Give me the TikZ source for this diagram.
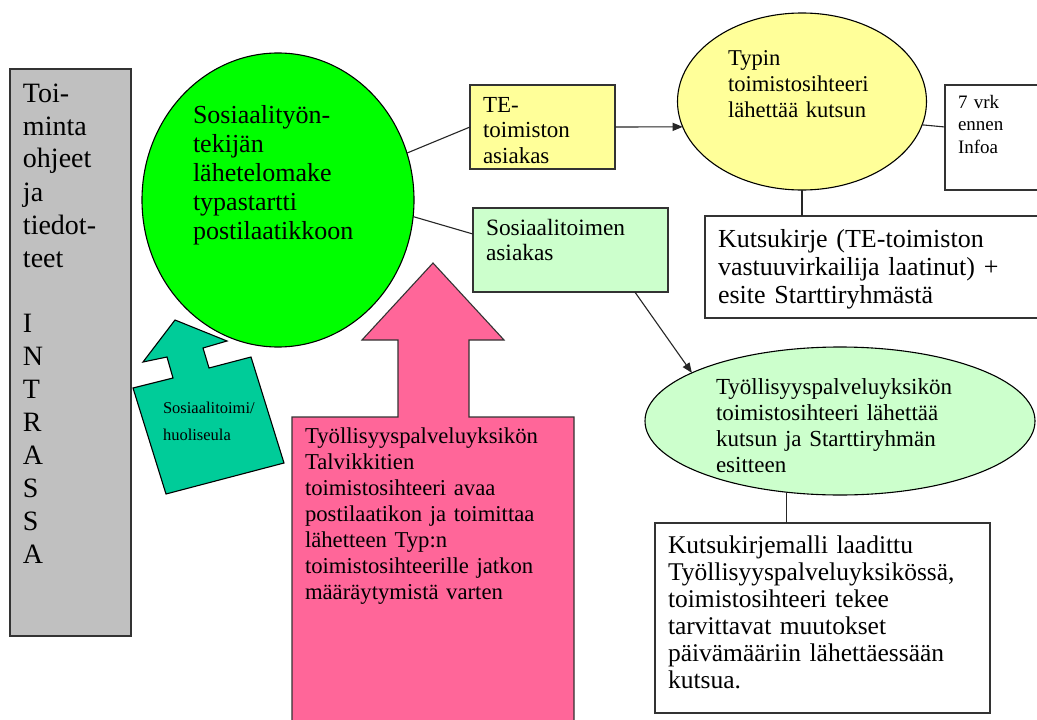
\documentclass[tikz,border=0pt]{standalone}
\usepackage{fontspec}
\setmainfont{Liberation Serif}
\usetikzlibrary{shapes.geometric,arrows.meta,calc}
\definecolor{cgray}{HTML}{C0C0C0}
\definecolor{cgreen}{HTML}{00FF00}
\definecolor{cyellow}{HTML}{FFFF99}
\definecolor{clgreen}{HTML}{CCFFCC}
\definecolor{cpink}{HTML}{FF6699}
\definecolor{cteal}{HTML}{00CC99}
\definecolor{cedge}{HTML}{333333}
\begin{document}
\begin{tikzpicture}[x=1pt,y=-1pt,
  shp/.style={draw=cedge,line width=1.1pt,inner sep=0pt,outer sep=0pt},
  boxr/.style={shp,rectangle,anchor=north west},
  ell/.style={shp,ellipse,draw=black},
  txt/.style={anchor=base west,inner sep=0pt,outer sep=0pt,align=left,text width=420pt},
  conn/.style={line width=1.1pt,draw=black!85},
  arr/.style={conn,-{Triangle[length=10pt,width=8pt]}},
]
\fill[white] (0,0) rectangle (1037,720);
\useasboundingbox (0,0) rectangle (1037,720);
\begin{scope}
\clip (0,0) rectangle (1037,720);

% left grey panel
\node[boxr,fill=cgray,minimum width=121pt,minimum height=567pt] (intra) at (10,69) {};
\node[txt,font=\fontsize{28pt}{33pt}\selectfont] (intratxt) at (23,102)
  {Toi-\\minta\\ohjeet\\ja\\tiedot-\\teet\\\mbox{}\\I\\N\\T\\R\\A\\S\\S\\A};

% green circle
\node[ell,fill=cgreen,minimum width=272pt,minimum height=294pt] (green) at (278,200) {};
\node[txt,font=\fontsize{26pt}{29pt}\selectfont] (greentxt) at (193,123)
  {Sosiaalityön-\\tekijän\\lähetelomake\\typastartti\\postilaatikkoon};

% teal arrow
\draw[line width=1.1pt,draw=black,fill=cteal]
  (133,388) -- (166,494) -- (284,463) -- (251,357) -- (209,368) -- (203,348)
  -- (227,341) -- (175,320) -- (143,362) -- (167,357) -- (173,378) -- cycle;
\node[txt,font=\fontsize{16.5pt}{27pt}\selectfont] (tealtxt) at (163,413)
  {Sosiaalitoimi/\\huoliseula};

% pink arrow
\draw[line width=1.1pt,draw=cedge,fill=cpink]
  (433,263) -- (504,340) -- (469,340) -- (469,417) -- (574,417) -- (574,740)
  -- (292,740) -- (292,417) -- (398,417) -- (398,340) -- (362,340) -- cycle;
\node[txt,font=\fontsize{22.7pt}{26pt}\selectfont] (pinktxt) at (305,443)
  {Työllisyyspalveluyksikön\\Talvikkitien\\toimistosihteeri avaa\\postilaatikon ja toimittaa\\lähetteen Typ:n\\toimistosihteerille jatkon\\määräytymistä varten};

% TE box
\node[boxr,fill=cyellow,minimum width=145pt,minimum height=84pt] (te) at (470,85) {};
\node[txt,font=\fontsize{23pt}{25.5pt}\selectfont] (tetxt) at (483,112)
  {TE-\\toimiston\\asiakas};

% Sosiaalitoimen box
\node[boxr,fill=clgreen,minimum width=195pt,minimum height=84pt] (soc) at (473,208) {};
\node[txt,font=\fontsize{23.4pt}{25pt}\selectfont] (soctxt) at (486,235)
  {Sosiaalitoimen\\asiakas};

% Typin ellipse
\node[ell,fill=cyellow,minimum width=249pt,minimum height=177pt] (typin) at (802,101.5) {};
\node[txt,font=\fontsize{22.6pt}{26pt}\selectfont] (typintxt) at (728,65)
  {Typin\\toimistosihteeri\\lähettää kutsun};

% 7 vrk box
\node[boxr,fill=white,minimum width=110pt,minimum height=105pt] (vrk) at (945,85) {};
\node[txt,font=\fontsize{19pt}{22.5pt}\selectfont] (vrktxt) at (958,108)
  {7 vrk\\ennen\\Infoa};

% Kutsukirje box
\node[boxr,fill=white,minimum width=350pt,minimum height=102pt] (kutsu) at (705,216) {};
\node[txt,font=\fontsize{26pt}{28pt}\selectfont] (kutsutxt) at (718,247)
  {Kutsukirje (TE-toimiston\\vastuuvirkailija laatinut) +\\esite Starttiryhmästä};

% light green ellipse
\node[ell,fill=clgreen,minimum width=390pt,minimum height=148pt] (lg) at (840,421) {};
\node[txt,font=\fontsize{23pt}{26pt}\selectfont] (lgtxt) at (716,394)
  {Työllisyyspalveluyksikön\\toimistosihteeri lähettää\\kutsun ja Starttiryhmän\\esitteen};

% bottom box
\node[boxr,fill=white,minimum width=335pt,minimum height=190pt] (bot) at (655,523) {};
\node[txt,font=\fontsize{25.5pt}{27pt}\selectfont] (bottxt) at (668,553)
  {Kutsukirjemalli laadittu\\Työllisyyspalveluyksikössä,\\toimistosihteeri tekee\\tarvittavat muutokset\\päivämääriin lähettäessään\\kutsua.};

% connectors
\draw[conn] (green.20) -- (te.west);
\draw[conn] (green.-7) -- ($(soc.north west)!0.31!(soc.south west)$);
\draw[arr] (te.east) -- (typin.192);
\draw[conn] (typin.-11.5) -- ($(vrk.north west)!0.4!(vrk.south west)$);
\draw[conn] (typin.south) -- (typin.south |- kutsu.north);
\draw[arr] ($(soc.south west)!0.83!(soc.south east)$) -- (lg.162);
\draw[conn] (lg.-127) -- (lg.-127 |- bot.north);
\end{scope}
\end{tikzpicture}
\end{document}
